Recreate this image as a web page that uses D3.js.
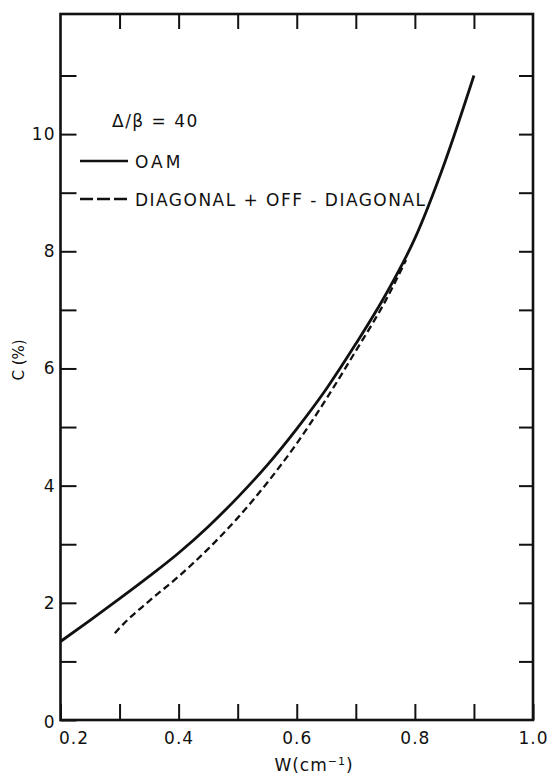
<!DOCTYPE html>
<html>
<head>
<meta charset="utf-8">
<script src="https://cdn.jsdelivr.net/npm/d3@7"></script>
<style>
  html, body { margin: 0; padding: 0; background: #fff; }
  svg { display: block; }
  text { font-family: "DejaVu Sans", "Liberation Sans", sans-serif; fill: #111; }
</style>
</head>
<body>
<svg id="chart" width="548" height="775"></svg>
<script>
// W (cm^-1) versus C (%) for Δ/β = 40
const oamW   = [0.2, 0.25, 0.3, 0.35, 0.4, 0.45, 0.5, 0.55, 0.6, 0.65, 0.7, 0.75, 0.8, 0.85, 0.9];
const oamC   = [1.34, 1.7, 2.07, 2.45, 2.85, 3.3, 3.8, 4.35, 4.97, 5.65, 6.42, 7.25, 8.22, 9.5, 11.0];
const diagW  = [0.292, 0.3, 0.35, 0.4, 0.45, 0.5, 0.55, 0.6, 0.65, 0.7, 0.75, 0.785];
const diagC  = [1.48, 1.57, 2.03, 2.45, 2.92, 3.45, 4.05, 4.72, 5.48, 6.3, 7.15, 7.85];
const xTicks = [0.2, 0.3, 0.4, 0.5, 0.6, 0.7, 0.8, 0.9, 1.0];
const xTickLabels = ["0.2", "", "0.4", "", "0.6", "", "0.8", "", "1.0"];
const yTicks = [0, 1, 2, 3, 4, 5, 6, 7, 8, 9, 10, 11];
const yTickLabels = ["0", "", "2", "", "4", "", "6", "", "8", "", "10", ""];
const seriesNames = ["OAM", "DIAGONAL + OFF - DIAGONAL"];

const svg = d3.select("#chart");
const x = d3.scaleLinear().domain([0.2, 1.0]).range([60.5, 533]);
const y = d3.scaleLinear().domain([0, 12.05]).range([720, 14]);

const ink = "#111";

// tick marks on all four sides, pointing inward
const gB = svg.append("g").attr("transform", `translate(0,${y(0)})`)
  .call(d3.axisBottom(x).tickValues(xTicks).tickSize(-16).tickPadding(12)
    .tickFormat((d, i) => xTickLabels[i]));
const gT = svg.append("g").attr("transform", `translate(0,${y.range()[1]})`)
  .call(d3.axisTop(x).tickValues(xTicks.slice(1, -1)).tickSize(-15).tickFormat(""));
const gL = svg.append("g").attr("transform", `translate(${x(0.2)},0)`)
  .call(d3.axisLeft(y).tickValues(yTicks).tickSize(-16).tickPadding(5)
    .tickFormat((d, i) => yTickLabels[i]));
const gR = svg.append("g").attr("transform", `translate(${x(1.0)},0)`)
  .call(d3.axisRight(y).tickValues(yTicks.slice(1)).tickSize(-14).tickFormat(""));

[gB, gT, gL, gR].forEach(g => {
  g.select(".domain").remove();
  g.selectAll(".tick line").attr("stroke", ink).attr("stroke-width", 2);
  g.selectAll(".tick text").attr("font-size", 17).attr("fill", ink)
    .attr("font-family", "DejaVu Sans, sans-serif").attr("letter-spacing", 1);
});
gB.selectAll(".tick text").filter((d, i) => i === 0).attr("dx", 13);
gL.selectAll(".tick text").filter(d => d === 0).attr("dy", "0.45em");

// plot frame
svg.append("rect")
  .attr("x", x(0.2)).attr("y", y.range()[1])
  .attr("width", x(1.0) - x(0.2)).attr("height", y(0) - y.range()[1])
  .attr("fill", "none").attr("stroke", ink).attr("stroke-width", 2.6);

// curves
const line = d3.line().x(d => x(d[0])).y(d => y(d[1])).curve(d3.curveMonotoneX);
svg.append("path")
  .datum(oamW.map((w, i) => [w, oamC[i]]))
  .attr("d", line).attr("fill", "none").attr("stroke", ink).attr("stroke-width", 2.8);
svg.append("path")
  .datum(diagW.map((w, i) => [w, diagC[i]]))
  .attr("d", line).attr("fill", "none").attr("stroke", ink).attr("stroke-width", 2.3)
  .attr("stroke-dasharray", "7,4");

// legend
svg.append("text").attr("x", 112).attr("y", 126.5).attr("font-size", 17)
  .attr("letter-spacing", 1.5).text("Δ/β = 40");
svg.append("line").attr("x1", 80).attr("x2", 128).attr("y1", 161).attr("y2", 161)
  .attr("stroke", ink).attr("stroke-width", 2.4);
svg.append("text").attr("x", 135).attr("y", 168).attr("font-size", 17)
  .attr("letter-spacing", 3).text(seriesNames[0]);
svg.append("line").attr("x1", 80).attr("x2", 128).attr("y1", 199).attr("y2", 199)
  .attr("stroke", ink).attr("stroke-width", 2.4).attr("stroke-dasharray", "13,4");
svg.append("text").attr("x", 135).attr("y", 205.5).attr("font-size", 17)
  .attr("textLength", 290).attr("lengthAdjust", "spacing").text(seriesNames[1]);

// axis titles
const xt = svg.append("text").attr("x", 314).attr("y", 771).attr("font-size", 17)
  .attr("text-anchor", "middle").attr("letter-spacing", 1);
xt.append("tspan").text("W(cm");
xt.append("tspan").attr("dy", -6).attr("font-size", 11).text("−1");
xt.append("tspan").attr("dy", 6).text(")");

svg.append("text").attr("transform", "translate(24,360) rotate(-90)")
  .attr("font-size", 15).attr("text-anchor", "middle").text("C (%)");
</script>
</body>
</html>
